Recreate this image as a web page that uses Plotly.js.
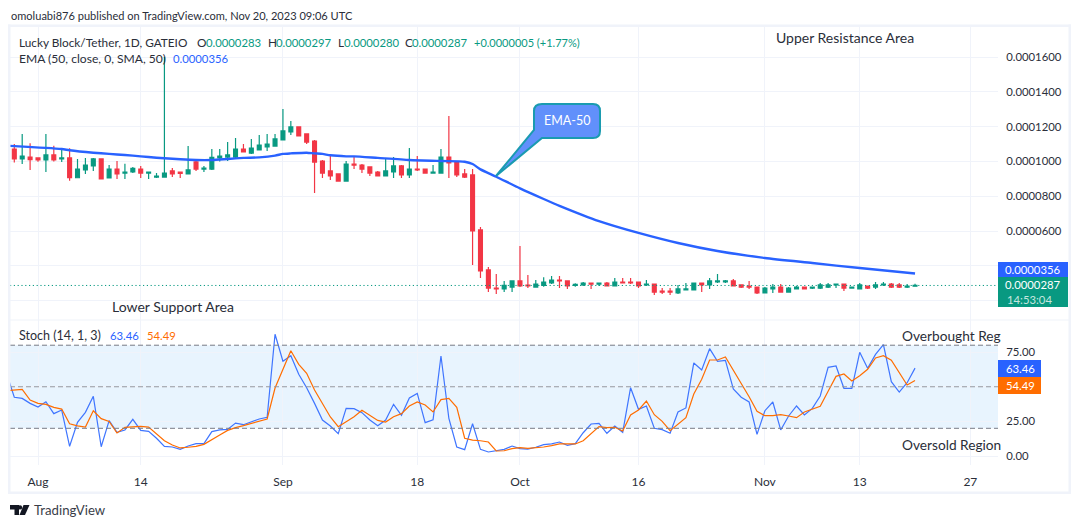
<!DOCTYPE html>
<html><head><meta charset="utf-8">
<script src="https://cdn.plot.ly/plotly-3.0.1.min.js"></script>
<style>html,body{margin:0;padding:0;background:#fff}#c{width:1080px;height:528px}</style>
</head><body><div id="c"></div>
<script>
// OHLC prices in units of 1e-7 USDT, one per day from Jul 29 2023
const openP=[1071,1014,1025,1020,1008,1037,1014,1020,906,951,974,1014,905,956,933,939,956,933,910,910,945,939,928,997,956,956,1020,1025,1025,1071,1048,1066,1083,1088,1123,1169,1198,1158,1117,1002,945,928,887,985,979,968,939,916,939,974,922,956,956,933,933,1025,997,928,922,606,376,272,267,278,313,289,278,288,301,318,313,288,290,301,295,301,284,307,307,307,290,295,255,255,244,261,261,301,290,307,307,313,290,284,278,244,267,278,249,267,278,272,272,278,290,295,272,267,284,278,290,295,290,278,283];
const highP=[1100,1158,1104,1020,1158,1090,1066,1075,1014,1020,1020,1014,979,1002,987,968,974,939,933,1600,962,939,1088,1002,974,1071,1071,1111,1134,1100,1129,1152,1158,1158,1301,1232,1198,1158,1123,1008,1037,928,1002,1031,985,968,945,1014,1025,979,1077,1031,956,979,1071,1261,1002,956,956,623,393,353,313,313,514,347,318,334,341,341,313,299,307,301,301,307,330,330,330,307,318,295,272,272,290,301,301,301,330,353,318,324,290,313,278,278,295,295,278,284,278,278,301,301,295,295,278,301,284,307,307,301,301,295,297];
const lowP=[993,985,951,998,939,1000,996,889,906,928,945,899,905,899,899,933,905,899,905,910,910,905,928,945,939,951,1000,1002,1020,1054,1043,1066,1060,1088,1123,1152,1146,1100,818,905,893,887,887,956,933,916,916,916,905,905,905,945,933,933,933,905,910,905,405,330,249,238,249,249,278,272,278,280,295,272,267,280,284,267,284,284,284,301,295,272,284,232,238,232,238,261,261,249,267,301,301,284,272,267,238,244,244,249,249,267,267,267,267,272,272,255,272,267,267,267,284,272,272,272,280];
const closeP=[1014,1031,1010,1008,1037,1008,1020,906,956,979,1014,899,956,928,939,960,933,939,916,933,928,931,951,956,962,1023,1031,1037,1071,1054,1077,1094,1100,1129,1175,1198,1146,1111,996,933,916,887,985,979,956,933,916,945,974,922,956,951,933,939,1025,991,922,910,600,370,272,267,288,313,284,284,295,307,318,313,284,293,301,295,301,284,307,301,301,284,295,249,249,249,267,267,301,290,313,313,313,284,278,278,244,272,278,249,272,278,267,278,290,290,295,272,278,290,272,290,295,278,278,284,287];
// EMA(50) readings: day index (days after Jul 29) and price in 1e-7 USDT
const emaDay=[-1,0,6,7,10,12,14,16,18,19,21,23,25,27,29,31,33,34,35,37,38,39,40,42,43,46,50,54,57,58,59,61,64,67,69,74,79,84,89,95,101,107,114];
const emaP=[1090,1088,1071,1064,1050,1043,1037,1029,1021,1018,1012,1008,1008,1014,1020,1023,1033,1043,1046,1050,1046,1043,1035,1029,1029,1020,1008,1002,998,985,954,912,845,784,745,657,589,531,485,445,416,387,356];
// Stochastic, one per day from Jul 28 2023
const stochK=[60,42.4,41.6,38,35.4,39.2,30.6,33.2,7,24.3,31.5,43.1,6.7,25.5,17.1,18.8,26.5,18.5,17.8,12.8,7,6.5,4.8,7.2,8.9,8.9,17.6,18.8,19.2,23.8,22.6,24.5,26.7,27.9,87.9,68.4,72.4,59,49.3,38,26,21.7,16.1,34.4,34.2,31.3,26,21.9,26,37.3,29.4,41.9,45.2,24.1,26.2,72.2,27.2,6.5,4.6,23.3,4.8,2.9,3.6,4.8,7.2,5.3,5,6.3,8.2,8.7,10.1,7.7,8.9,16.8,23.1,23.6,16.4,21.7,17.1,49.3,33.7,36.1,20,19,16.4,31.8,34.7,67.2,62.1,77.5,68.4,69.1,48.4,42.4,39,15.6,32.7,39,18.8,28.9,36.1,29.6,34.4,43.3,64,65,48.9,48.9,74.9,63.3,73.4,80.4,53.7,46.2,52.9,63.46];
const stochD=[47.2,47.7,48.1,40.4,38,37.3,35.1,33.9,23.3,21.7,20.9,32.7,27,25,16.6,20.7,20.9,21.4,20.9,15.9,11,7.9,5.8,6.3,7,8.4,12,15.2,18.5,20.5,21.9,23.6,24.8,26.7,49.1,62.1,76,66.2,59.7,47.7,37.5,28.2,21.2,24.5,28.4,33,29.6,25.7,24.5,28.4,30.6,36.1,39,36.8,31.8,40.7,41.6,35.1,12.8,11.5,11,10.1,3.6,3.8,5.3,6,5.5,5.8,6.5,7.5,8.7,8.7,8.7,11,16.4,21.2,20.5,20.7,18,29.6,33.2,39.7,29.8,25,18.3,22.9,27.7,44.8,55.4,69.3,69.3,71.5,62.1,53.2,42.8,32.2,29.1,29.1,29.8,28.9,27.7,31.8,33.7,35.9,46.7,57.5,59.2,54.2,58,62.6,70.8,72.4,69.1,60.4,51.3,54.49];
// Axis ticks
const timeTicks=['2023-08-01','2023-08-14','2023-09-01','2023-09-18','2023-10-01','2023-10-16','2023-11-01','2023-11-13','2023-11-27'];
const timeLabels=['Aug','14','Sep','18','Oct','16','Nov','13','27'];
const priceTicks=[200,400,600,800,1000,1200,1400,1600];
const priceLabels=['','','0.0000600','0.0000800','0.0001000','0.0001200','0.0001400','0.0001600'];
const stochTicks=[0,25,50,75];
const stochLabels=['0.00','25.00','','75.00'];

const W=1080,H=528, FONT='Lato, "Noto Sans", sans-serif';
const GREEN='#089981',RED='#f23645',BLUE='#2962ff',ORANGE='#ff6d00',INK='#2a2e39',GRID='#f0f3fa';
const px=v=>v/1e7;
const dayDate=n=>new Date(Date.UTC(2023,6,29+n)).toISOString().slice(0,10);
const days=openP.map((_,i)=>dayDate(i));
const stochDays=stochK.map((_,i)=>dayDate(i-1));
const fx=x=>x/W, fy=y=>1-y/H;
const P=(x,y)=>fx(x)+' '+fy(y);

const traces=[
 {type:'candlestick',x:days,open:openP.map(px),high:highP.map(px),low:lowP.map(px),close:closeP.map(px),xaxis:'x',yaxis:'y',
  width:0.55*864e5,whiskerwidth:0,
  increasing:{line:{color:GREEN,width:1.2},fillcolor:GREEN},decreasing:{line:{color:RED,width:1.2},fillcolor:RED},hoverinfo:'skip'},
 {type:'scatter',mode:'lines',x:emaDay.map(dayDate),y:emaP.map(px),xaxis:'x',yaxis:'y',line:{color:BLUE,width:2.4,shape:'spline',smoothing:0.6},hoverinfo:'skip'},
 {type:'scatter',mode:'lines',x:stochDays,y:stochK,xaxis:'x',yaxis:'y2',line:{color:'#3f75ff',width:1.2},hoverinfo:'skip'},
 {type:'scatter',mode:'lines',x:stochDays,y:stochD,xaxis:'x',yaxis:'y2',line:{color:ORANGE,width:1.2},hoverinfo:'skip'}
];

const rr=(x0,y0,x1,y1,c,extra)=>Object.assign({type:'rect',xref:'paper',yref:'paper',x0:fx(x0),x1:fx(x1),y0:fy(y1),y1:fy(y0),fillcolor:c,line:{width:0},layer:'above'},extra||{});
const pth=(d,fill,line,lw)=>({type:'path',xref:'paper',yref:'paper',path:d,fillcolor:fill,line:{color:line||fill,width:lw===undefined?0:lw},layer:'above'});
const hline=(v,yref,color,dash)=>({type:'line',xref:'paper',yref:yref,x0:fx(10),x1:fx(998),y0:v,y1:v,line:{color:color,width:1,dash:dash},layer:'above'});

const callout='M'+P(542,104)+' L'+P(593,104)+' Q'+P(600,104)+' '+P(600,111)+' L'+P(600,131)+' Q'+P(600,138)+' '+P(593,138)+
 ' L'+P(542,138)+' L'+P(496,176)+' L'+P(534,130)+' L'+P(534,111)+' Q'+P(534,104)+' '+P(542,104)+' Z';
const tvT='M'+P(10,505)+' L'+P(19,505)+' L'+P(19,515)+' L'+P(14.5,515)+' L'+P(14.5,509.5)+' L'+P(10,509.5)+' Z';
const tvV='M'+P(23.5,505)+' L'+P(29.5,505)+' L'+P(25,515)+' L'+P(19.5,515)+' Z';

const shapes=[
 {type:'rect',xref:'paper',yref:'y2',x0:fx(10),x1:fx(998),y0:20,y1:80,fillcolor:'rgba(33,150,243,0.1)',line:{width:0},layer:'below'},
 hline(80,'y2','#787b86','5px,3px'),hline(50,'y2','#9598a1','5px,3px'),hline(20,'y2','#787b86','5px,3px'),
 hline(px(closeP[closeP.length-1]),'y',GREEN,'1.2px,2.6px'),
 rr(8,24.5,1071,27,GRID),rr(8,491.5,1071,494,GRID),rr(8,24.5,10.5,494,GRID),rr(1068.5,24.5,1071,494,GRID),
 rr(10,319.5,1069,320.5,GRID),
 rr(998,262,1068,277,BLUE),rr(998,277,1068,307,GREEN),
 rr(998,360,1041,377,BLUE),rr(998,377,1041,394,ORANGE),
 pth(callout,'#6190fb','#1a9bb0',2),
 pth(tvT,'#131722'),pth(tvV,'#131722'),
 {type:'circle',xref:'paper',yref:'paper',x0:fx(17.8),x1:fx(22.2),y0:fy(509.6),y1:fy(505.2),fillcolor:'#131722',line:{width:0},layer:'above'}
];

const ann=(x,y,text,size,color,anchor)=>({xref:'paper',yref:'paper',x:fx(x),y:fy(y),text:text,showarrow:false,xanchor:anchor||'left',yanchor:'middle',align:'left',
   font:{family:FONT,size:size,color:color||INK},borderpad:0});
const NUM=11.3, BIG=13.7;
const annotations=[
 ann(10,15,'omoluabi876 published on TradingView.com, Nov 20, 2023 09:06 UTC',11.05),
 ann(18,42,'Lucky Block/Tether, 1D, GATEIO',11.8),
 ann(196,42,'O',11.8),ann(204.5,42,'0.0000283',NUM,GREEN),
 ann(266.5,42,'H',11.8),ann(275,42,'0.0000297',NUM,GREEN),
 ann(336.5,42,'L',11.8),ann(342.5,42,'0.0000280',NUM,GREEN),
 ann(404,42,'C',11.8),ann(411,42,'0.0000287',NUM,GREEN),
 ann(473,42,'+0.0000005 (+1.77%)',11,GREEN),
 ann(18,59,'EMA (50, close, 0, SMA, 50)',12.1),
 ann(172,59,'0.0000356',NUM,BLUE),
 ann(18,335,'Stoch (14, 1, 3)',12.5),
 ann(108.5,335,'63.46',NUM,BLUE),ann(145.5,335,'54.49',NUM,ORANGE),
 ann(775,37,'Upper Resistance Area',14),
 ann(111,306,'Lower Support Area',14),
 ann(901,335,'Overbought Reg',BIG),
 ann(901,444,'Oversold Region',BIG),
 ann(567.5,120,'EMA-50',12.5,'#ffffff','center'),
 ann(1033,269.5,'0.0000356',NUM,'#ffffff','center'),
 ann(1033,284.5,'0.0000287',NUM,'#ffffff','center'),
 ann(1029,299,'14:53:04',NUM,'#c5e6df','center'),
 ann(1020.5,368.5,'63.46',NUM,'#ffffff','center'),
 ann(1020.5,385.5,'54.49',NUM,'#ffffff','center'),
 ann(33,510,'TradingView',13.2,'#3a3e49')
];
const tf={family:FONT,size:NUM,color:INK};
const layout={width:W,height:H,margin:{l:0,r:0,t:0,b:0},paper_bgcolor:'#fff',plot_bgcolor:'#fff',showlegend:false,font:tf,
 xaxis:{type:'date',domain:[fx(10),fx(998)],range:['2023-07-28 10:56','2023-11-30 12:00'],anchor:'y2',tickmode:'array',tickvals:timeTicks,ticktext:timeLabels,
  showgrid:true,gridcolor:GRID,gridwidth:1,zeroline:false,showline:false,ticks:'outside',ticklen:6,tickcolor:'rgba(0,0,0,0)',tickfont:{family:FONT,size:12,color:INK},rangeslider:{visible:false},fixedrange:true},
 yaxis:{domain:[fy(320),fy(27)],range:[px(88.5),px(1772.4)],anchor:'x',side:'right',tickmode:'array',tickvals:priceTicks.map(px),ticktext:priceLabels,
  showgrid:true,gridcolor:GRID,zeroline:false,showline:false,ticks:'outside',ticklen:5,tickcolor:'rgba(0,0,0,0)',tickfont:tf,fixedrange:true},
 yaxis2:{domain:[fy(465),fy(320)],range:[-6.5,98.2],anchor:'x',side:'right',tickmode:'array',tickvals:stochTicks,ticktext:stochLabels,
  showgrid:true,gridcolor:GRID,zeroline:false,showline:false,ticks:'outside',ticklen:5,tickcolor:'rgba(0,0,0,0)',tickfont:tf,fixedrange:true},
 shapes:shapes,annotations:annotations};
Plotly.newPlot('c',traces,layout,{staticPlot:true,displayModeBar:false});
</script></body></html>
